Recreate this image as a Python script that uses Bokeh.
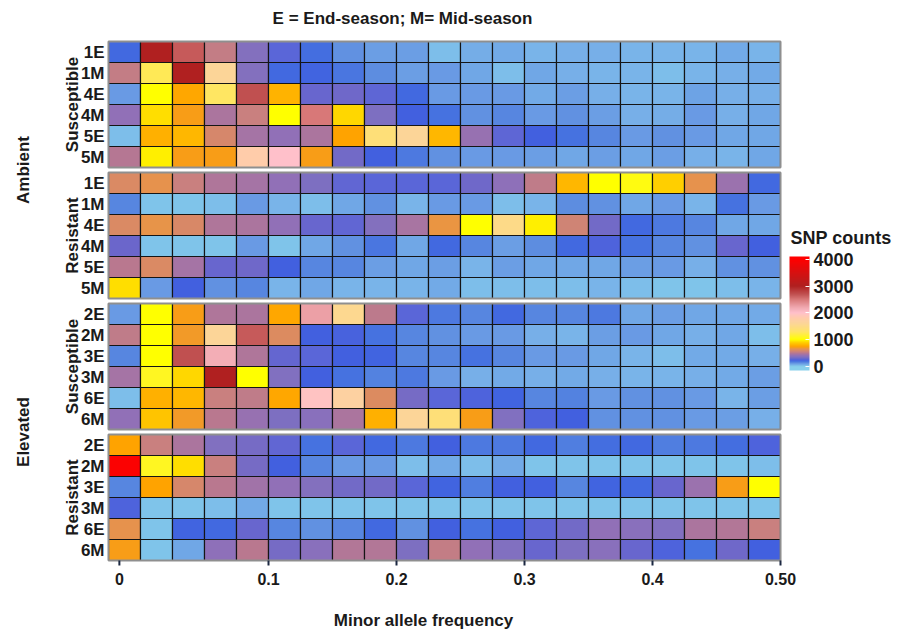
import math
from bokeh.plotting import figure
from bokeh.models import (Range1d, ColumnDataSource, LinearColorMapper,
                          ColorBar, FixedTicker)
from bokeh.core.properties import value
from bokeh.transform import transform
from bokeh.embed import file_html
from bokeh.resources import INLINE

# ---------------- data ----------------
treatments = ["Ambient", "Elevated"]
resistance = ["Susceptible", "Resistant"]
ambient_rows = ["1E", "1M", "4E", "4M", "5E", "5M"]
elevated_rows = ["2E", "2M", "3E", "3M", "6E", "6M"]

# minor allele frequency bin centres (first bin sits left of 0)
maf_bins = [-0.0125, 0.0125, 0.0375, 0.0625, 0.0875, 0.1125, 0.1375, 0.1625, 0.1875,
            0.2125, 0.2375, 0.2625, 0.2875, 0.3125, 0.3375, 0.3625, 0.3875, 0.4125,
            0.4375, 0.4625, 0.4875]

x_tick_labels = ["0", "0.1", "0.2", "0.3", "0.4", "0.50"]
x_tick_values = [-0.0165, 0.1, 0.2, 0.3, 0.4, 0.5]
colorbar_ticks = [0, 1000, 2000, 3000, 4000]
colorbar_title = "SNP counts"

amb_sus = [
    [210, 3000, 2650, 530, 360, 260, 200, 130, 100, 100, 40, 70, 75, 55, 60, 60, 50, 50, 50, 80, 55],
    [530, 1250, 3000, 1600, 360, 210, 220, 190, 140, 100, 115, 85, 40, 90, 60, 55, 50, 35, 50, 60, 80],
    [115, 1000, 760, 1280, 2700, 800, 290, 310, 270, 215, 115, 115, 115, 80, 100, 60, 50, 55, 95, 60, 60],
    [400, 930, 720, 470, 540, 1000, 2500, 920, 340, 225, 195, 130, 150, 115, 130, 100, 60, 70, 115, 60, 90],
    [40, 790, 820, 590, 450, 400, 470, 740, 1400, 1600, 820, 420, 270, 225, 195, 150, 115, 130, 115, 85, 85],
    [490, 970, 720, 720, 1800, 2000, 720, 320, 225, 180, 130, 115, 115, 100, 85, 100, 90, 100, 60, 55, 90],
]
amb_res = [
    [610, 660, 540, 480, 450, 400, 345, 280, 260, 260, 260, 310, 390, 520, 820, 1000, 1050, 890, 660, 430, 215],
    [150, 25, 25, 40, 115, 55, 40, 85, 130, 55, 115, 115, 40, 55, 140, 130, 90, 115, 55, 195, 115],
    [610, 670, 600, 480, 465, 400, 290, 280, 360, 460, 680, 1000, 1500, 970, 570, 320, 215, 180, 150, 90, 90],
    [300, 25, 25, 30, 115, 30, 85, 130, 190, 85, 215, 150, 100, 140, 215, 245, 195, 150, 130, 295, 225],
    [500, 610, 450, 290, 310, 225, 150, 150, 100, 85, 100, 55, 100, 85, 90, 85, 100, 115, 60, 130, 130],
    [930, 115, 225, 130, 150, 55, 85, 50, 50, 55, 80, 35, 40, 40, 35, 55, 40, 30, 25, 40, 50],
]
elev_sus = [
    [115, 1000, 720, 480, 465, 760, 2250, 1550, 510, 260, 175, 150, 210, 150, 150, 175, 85, 100, 90, 85, 80],
    [520, 1000, 700, 1600, 2650, 620, 225, 240, 195, 150, 130, 115, 115, 60, 55, 100, 115, 85, 60, 85, 40],
    [150, 1000, 2700, 2150, 480, 285, 265, 225, 220, 150, 150, 195, 150, 115, 115, 90, 55, 35, 80, 80, 60],
    [455, 1100, 920, 3000, 1000, 350, 225, 195, 160, 180, 115, 60, 80, 60, 80, 60, 55, 50, 60, 80, 100],
    [40, 790, 820, 540, 520, 760, 1950, 1700, 620, 330, 265, 245, 220, 150, 160, 115, 130, 130, 115, 55, 100],
    [400, 860, 700, 500, 420, 345, 380, 465, 790, 1600, 1400, 720, 355, 245, 225, 130, 130, 130, 115, 100, 60],
]
elev_res = [
    [740, 540, 470, 350, 325, 280, 195, 265, 215, 180, 225, 180, 180, 215, 170, 205, 215, 170, 180, 205, 245],
    [3950, 1100, 930, 540, 325, 225, 150, 115, 115, 35, 80, 40, 75, 25, 30, 25, 30, 25, 25, 30, 40],
    [150, 740, 590, 500, 445, 400, 360, 320, 320, 265, 220, 170, 225, 225, 150, 220, 215, 290, 430, 720, 1000],
    [245, 25, 25, 35, 75, 25, 25, 25, 25, 25, 25, 25, 25, 25, 25, 30, 25, 25, 25, 30, 25],
    [660, 25, 220, 210, 290, 150, 130, 150, 215, 130, 225, 195, 225, 270, 320, 400, 380, 355, 465, 485, 540],
    [720, 25, 85, 390, 505, 325, 380, 485, 485, 345, 530, 400, 355, 295, 340, 380, 295, 245, 195, 310, 225],
]

panels = [
    ("Ambient", "Susceptible", ambient_rows, amb_sus),
    ("Ambient", "Resistant", ambient_rows, amb_res),
    ("Elevated", "Susceptible", elevated_rows, elev_sus),
    ("Elevated", "Resistant", elevated_rows, elev_res),
]

# ---------------- colour scale (style) ----------------
stops = [
    (0, "#88d0ec"), (25, "#80c6ea"), (40, "#7cbcea"), (60, "#78b0e8"), (85, "#70a8e6"),
    (100, "#6ca0e4"), (115, "#6898e4"), (130, "#6090e0"), (150, "#5888e0"), (180, "#4c78e0"),
    (200, "#4470e0"), (225, "#4060e0"), (260, "#5a66d8"), (300, "#6a66cc"), (350, "#8070c0"),
    (400, "#9070b8"), (450, "#a474a6"), (500, "#b87890"), (540, "#c88080"), (600, "#d88868"),
    (670, "#e89448"), (740, "#ffa200"), (820, "#ffb800"), (920, "#ffd800"), (1000, "#ffff00"),
    (1300, "#ffe468"), (1600, "#fcd598"), (1800, "#ffccaa"), (2000, "#ffc0cb"), (2200, "#f0a8b0"),
    (2500, "#d87878"), (2700, "#c05050"), (3000, "#b02020"), (4000, "#ff0000"),
]
LOW, HIGH, NCOL = -150, 4100, 512


def _rgb(h):
    return tuple(int(h[i:i + 2], 16) for i in (1, 3, 5))


def _interp(v):
    if v <= stops[0][0]:
        return stops[0][1]
    if v >= stops[-1][0]:
        return stops[-1][1]
    for (v0, c0), (v1, c1) in zip(stops[:-1], stops[1:]):
        if v0 <= v <= v1:
            t = (v - v0) / (v1 - v0)
            a, b = _rgb(c0), _rgb(c1)
            return "#%02x%02x%02x" % tuple(int(round(a[k] + (b[k] - a[k]) * t)) for k in range(3))


palette = [_interp(LOW + (HIGH - LOW) * (i + 0.5) / NCOL) for i in range(NCOL)]
mapper = LinearColorMapper(palette=palette, low=LOW, high=HIGH)

# ---------------- layout geometry (pixels of the page) ----------------
W, H = 898, 629
FL, FR, FT, FB = 108, 780, 41, 560          # heat-map area
XMIN, XMAX = -0.025, 0.5                    # MAF extent of the heat-map
PAD = 5 / 21                                # gap between panels, in rows
N_ROWS = sum(len(r) for _, _, r, _ in panels)
Y_TOTAL = N_ROWS + PAD * (len(panels) - 1)  # rows counted from the top


def px_x(px):
    return XMIN + (px - FL) / (FR - FL) * (XMAX - XMIN)


def px_y(py):
    return (py - FT) / (FB - FT) * Y_TOTAL


# row positions (top-down, y axis flipped)
row_pos = []
panel_bounds = []
pos = 0.0
for k, (t, g, rows, data) in enumerate(panels):
    if k > 0:
        pos += PAD
    start = pos
    for lab in rows:
        row_pos.append(pos + 0.5)
        pos += 1
    panel_bounds.append((start, pos))

xs, ys, cs = [], [], []
i = 0
for t, g, rows, data in panels:
    for r, lab in enumerate(rows):
        for j, m in enumerate(maf_bins):
            xs.append(m)
            ys.append(row_pos[i])
            cs.append(data[r][j])
        i += 1
source = ColumnDataSource(dict(maf=xs, row=ys, count=cs))

FONT = "Liberation Sans"
TXT = "#1a1a1a"

p = figure(width=W, height=H, x_range=Range1d(px_x(0), px_x(W)),
           y_range=Range1d(px_y(H), px_y(0)),
           output_backend="svg", toolbar_location=None,
           x_axis_location=None, y_axis_location=None, min_border=0)
p.outline_line_color = None
p.grid.visible = False
p.background_fill_color = "white"
p.border_fill_color = "white"

p.rect(x="maf", y="row", width=0.025, height=1, source=source,
       fill_color=transform("count", mapper), line_color="#151515", line_width=1.2)

# panel frames
for (y0, y1) in panel_bounds:
    p.rect(x=[(XMIN + XMAX) / 2], y=[(y0 + y1) / 2], width=[XMAX - XMIN], height=[y1 - y0],
           fill_color=None, line_color="#8f8f8f", line_width=1.8)

# row labels
row_text = [lab for _, _, rows, _ in panels for lab in rows]
p.text(x=[px_x(104)] * len(row_text), y=row_pos, text=row_text,
       text_align="right", text_baseline="middle", text_font=value(FONT),
       text_font_size="17px", text_font_style="bold", text_color=TXT)

# susceptible / resistant labels
p.text(x=[px_x(72)] * len(panels), y=[(a + b) / 2 for a, b in panel_bounds],
       text=[g for _, g, _, _ in panels], angle=math.pi / 2,
       text_align="center", text_baseline="middle", text_font=value(FONT),
       text_font_size="17px", text_font_style="bold", text_color=TXT)

# treatment labels
t_y = []
for t in treatments:
    b = [panel_bounds[k] for k, pnl in enumerate(panels) if pnl[0] == t]
    t_y.append((b[0][0] + b[-1][1]) / 2)
p.text(x=[px_x(23)] * len(treatments), y=t_y, text=treatments, angle=math.pi / 2,
       text_align="center", text_baseline="middle", text_font=value(FONT),
       text_font_size="17px", text_font_style="bold", text_color=TXT)

# x ticks and tick labels
p.segment(x0=x_tick_values, x1=x_tick_values, y0=[Y_TOTAL] * 6, y1=[px_y(FB + 5)] * 6,
          line_color="#1b2740", line_width=2)
p.text(x=x_tick_values, y=[px_y(578)] * len(x_tick_values), text=x_tick_labels,
       text_align="center", text_baseline="middle", text_font=value(FONT),
       text_font_size="16px", text_font_style="bold", text_color=TXT)

# title and axis title
p.text(x=[px_x(402)], y=[px_y(18)], text=["E = End-season; M= Mid-season"],
       text_align="center", text_baseline="middle", text_font=value(FONT),
       text_font_size="17px", text_font_style="bold", text_color=TXT)
p.text(x=[px_x(423)], y=[px_y(620)], text=["Minor allele frequency"],
       text_align="center", text_baseline="middle", text_font=value(FONT),
       text_font_size="17px", text_font_style="bold", text_color=TXT)

# colour bar title
p.text(x=[px_x(790)], y=[px_y(237)], text=[colorbar_title],
       text_align="left", text_baseline="middle", text_font=value(FONT),
       text_font_size="18px", text_font_style="bold", text_color=TXT)

cb = ColorBar(color_mapper=mapper, ticker=FixedTicker(ticks=colorbar_ticks),
              width=20, height=114,
              major_label_text_font=FONT, major_label_text_font_size="18px",
              major_label_text_font_style="bold", major_label_text_color=TXT,
              label_standoff=4, major_tick_line_color="white", major_tick_in=4, major_tick_out=0,
              minor_tick_line_color=None, bar_line_color=None, border_line_color=None,
              background_fill_color=None, padding=0, margin=0, location=(789, 259))
p.add_layout(cb, "center")

open("out.html", "w").write(file_html(p, INLINE))
